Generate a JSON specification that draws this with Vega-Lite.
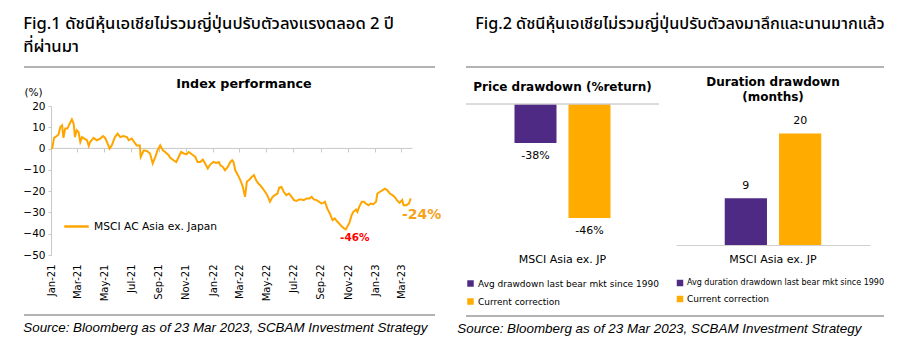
{
  "$schema": "https://vega.github.io/schema/vega-lite/v6.json",
  "padding": {"left": 22, "top": 16, "right": 0, "bottom": 0},
  "background": "white",
  "config": {
    "view": {"stroke": null},
    "font": "DejaVu Sans",
    "axis": {"grid": false, "labelFont": "DejaVu Sans", "labelColor": "#000000", "domainColor": "#C8C8C8", "tickColor": "#C8C8C8", "labelFontSize": 10},
    "axisY": {"labelOverlap": false},
    "legend": {"labelFont": "DejaVu Sans", "labelColor": "#000000"},
    "title": {"color": "#000000"},
    "text": {"font": "DejaVu Sans"}
  },
  "spacing": 15,
  "hconcat": [
    {
      "spacing": 10,
      "vconcat": [
        {
          "title": {"text": ["Fig.1 ดัชนีหุ้นเอเชียไม่รวมญี่ปุ่นปรับตัวลงแรงตลอด 2 ปี", "ที่ผ่านมา"], "anchor": "start", "fontSize": 16.6, "fontWeight": 500, "font": "Noto Sans Thai, Noto Sans, sans-serif", "lineHeight": 22.5, "offset": 11},
          "width": 411, "height": 1,
          "data": {"values": [{}]},
          "mark": {"type": "rule", "color": "#9A9A9A", "strokeWidth": 1.5},
          "encoding": {"y": {"datum": 0, "axis": null}}
        },
        {
          "title": {"text": "Index performance", "fontSize": 12.7, "fontWeight": "bold", "font": "DejaVu Sans", "offset": -4, "dx": 26},
          "width": 388, "height": 149,
          "layer": [
            {
              "data": {"values": [
                {"d":"2021-01-01","v":0},{"d":"2021-01-04","v":0.3},{"d":"2021-01-08","v":5},{"d":"2021-01-14","v":5.9},{"d":"2021-01-18","v":6.6},{"d":"2021-01-22","v":10.1},{"d":"2021-01-26","v":10.9},{"d":"2021-01-29","v":5},{"d":"2021-02-02","v":9.4},{"d":"2021-02-07","v":9.4},{"d":"2021-02-12","v":11.7},{"d":"2021-02-17","v":13.7},{"d":"2021-02-21","v":11.7},{"d":"2021-02-24","v":5.4},{"d":"2021-02-28","v":8.6},{"d":"2021-03-04","v":7.8},{"d":"2021-03-08","v":3.1},{"d":"2021-03-12","v":5.4},{"d":"2021-03-17","v":4.7},{"d":"2021-03-23","v":3.9},{"d":"2021-03-27","v":1.2},{"d":"2021-03-30","v":3.1},{"d":"2021-04-07","v":5},{"d":"2021-04-14","v":3.9},{"d":"2021-04-22","v":4.7},{"d":"2021-04-28","v":5.9},{"d":"2021-05-03","v":5},{"d":"2021-05-07","v":3.1},{"d":"2021-05-13","v":0},{"d":"2021-05-18","v":1.5},{"d":"2021-05-25","v":5.4},{"d":"2021-05-31","v":7},{"d":"2021-06-06","v":5.4},{"d":"2021-06-13","v":5.9},{"d":"2021-06-21","v":5.4},{"d":"2021-06-25","v":3.9},{"d":"2021-07-02","v":4.7},{"d":"2021-07-07","v":3.1},{"d":"2021-07-13","v":1.5},{"d":"2021-07-20","v":1.5},{"d":"2021-07-22","v":-3.9},{"d":"2021-07-29","v":-0.8},{"d":"2021-08-05","v":-1.1},{"d":"2021-08-12","v":-2.3},{"d":"2021-08-18","v":-7},{"d":"2021-08-24","v":-3.9},{"d":"2021-08-29","v":-0.8},{"d":"2021-09-04","v":1.5},{"d":"2021-09-10","v":-0.8},{"d":"2021-09-15","v":-1.6},{"d":"2021-09-23","v":-3.1},{"d":"2021-09-26","v":-4.2},{"d":"2021-10-04","v":-5.5},{"d":"2021-10-10","v":-6.3},{"d":"2021-10-15","v":-4.2},{"d":"2021-10-21","v":-1.6},{"d":"2021-10-27","v":-2.3},{"d":"2021-11-02","v":-2.7},{"d":"2021-11-07","v":-1.6},{"d":"2021-11-12","v":-2.3},{"d":"2021-11-17","v":-3.1},{"d":"2021-11-22","v":-3.9},{"d":"2021-11-27","v":-6.3},{"d":"2021-12-03","v":-6.3},{"d":"2021-12-09","v":-5.2},{"d":"2021-12-14","v":-7},{"d":"2021-12-20","v":-9.4},{"d":"2021-12-26","v":-7.4},{"d":"2022-01-02","v":-6.3},{"d":"2022-01-08","v":-6.7},{"d":"2022-01-14","v":-6.3},{"d":"2022-01-17","v":-7.8},{"d":"2022-01-23","v":-8.6},{"d":"2022-01-28","v":-10.2},{"d":"2022-02-03","v":-8.6},{"d":"2022-02-09","v":-6.3},{"d":"2022-02-13","v":-5.5},{"d":"2022-02-16","v":-6.3},{"d":"2022-02-20","v":-10.2},{"d":"2022-02-28","v":-13.3},{"d":"2022-03-05","v":-15.6},{"d":"2022-03-09","v":-18},{"d":"2022-03-14","v":-22.7},{"d":"2022-03-18","v":-15.6},{"d":"2022-03-24","v":-14.5},{"d":"2022-03-29","v":-13.3},{"d":"2022-04-03","v":-12.5},{"d":"2022-04-08","v":-14.9},{"d":"2022-04-13","v":-16.4},{"d":"2022-04-17","v":-17.2},{"d":"2022-04-23","v":-18.8},{"d":"2022-04-28","v":-20.3},{"d":"2022-05-03","v":-21.9},{"d":"2022-05-09","v":-25},{"d":"2022-05-15","v":-22.7},{"d":"2022-05-20","v":-21.9},{"d":"2022-05-26","v":-21.1},{"d":"2022-05-30","v":-18.3},{"d":"2022-06-04","v":-18},{"d":"2022-06-09","v":-20.3},{"d":"2022-06-15","v":-21.9},{"d":"2022-06-21","v":-21.1},{"d":"2022-06-27","v":-22.7},{"d":"2022-07-02","v":-24.2},{"d":"2022-07-08","v":-24.6},{"d":"2022-07-14","v":-23.9},{"d":"2022-07-19","v":-23.9},{"d":"2022-07-24","v":-24.2},{"d":"2022-07-31","v":-23.4},{"d":"2022-08-06","v":-23.4},{"d":"2022-08-11","v":-22.7},{"d":"2022-08-16","v":-23.9},{"d":"2022-08-22","v":-24.2},{"d":"2022-08-28","v":-25},{"d":"2022-09-02","v":-25.8},{"d":"2022-09-06","v":-25.5},{"d":"2022-09-10","v":-25},{"d":"2022-09-15","v":-28.1},{"d":"2022-09-21","v":-30.5},{"d":"2022-09-27","v":-33.6},{"d":"2022-10-02","v":-32.8},{"d":"2022-10-08","v":-34.4},{"d":"2022-10-12","v":-35.2},{"d":"2022-10-17","v":-36.4},{"d":"2022-10-23","v":-37.5},{"d":"2022-10-27","v":-38},{"d":"2022-10-30","v":-36.8},{"d":"2022-11-04","v":-34.9},{"d":"2022-11-09","v":-31.3},{"d":"2022-11-13","v":-29.7},{"d":"2022-11-19","v":-28.6},{"d":"2022-11-22","v":-29.7},{"d":"2022-11-26","v":-27.4},{"d":"2022-12-02","v":-25},{"d":"2022-12-07","v":-25},{"d":"2022-12-11","v":-25.8},{"d":"2022-12-17","v":-26.6},{"d":"2022-12-22","v":-25.8},{"d":"2022-12-28","v":-26.1},{"d":"2023-01-03","v":-25},{"d":"2023-01-06","v":-21.1},{"d":"2023-01-12","v":-20.3},{"d":"2023-01-18","v":-19.5},{"d":"2023-01-23","v":-18.8},{"d":"2023-01-28","v":-19.5},{"d":"2023-02-03","v":-21.1},{"d":"2023-02-09","v":-21.9},{"d":"2023-02-14","v":-22.7},{"d":"2023-02-19","v":-24.2},{"d":"2023-02-25","v":-25.5},{"d":"2023-03-03","v":-24.2},{"d":"2023-03-06","v":-26.6},{"d":"2023-03-12","v":-26.6},{"d":"2023-03-18","v":-25.8},{"d":"2023-03-22","v":-23.4}
              ]},
              "mark": {"type": "line", "strokeWidth": 2, "interpolate": "linear"},
              "encoding": {
                "x": {"field": "d", "type": "temporal",
                      "scale": {"domain": [{"year": 2021, "month": 1, "date": 1}, {"year": 2023, "month": 3, "date": 25}], "range": [27, 388]},
                      "axis": {"format": "%b-%y", "labelAngle": -90, "tickCount": {"interval": "month", "step": 2}, "domain": false, "ticks": false, "labelPadding": 9, "title": " ", "titleFontSize": 3, "titlePadding": 0, "labelFontSize": 10, "labelOverlap": false}},
                "y": {"field": "v", "type": "quantitative",
                      "scale": {"domain": [-50, 20], "nice": false},
                      "axis": {"values": [-50, -40, -30, -20, -10, 0, 10, 20], "offset": -27, "labelOverlap": false, "tickSize": 3, "labelPadding": 3, "labelFontSize": 10.5, "title": "(%)", "titleAngle": 0, "titleAlign": "left", "titleBaseline": "alphabetic", "titleX": -27, "titleY": -11, "titleFontWeight": "normal", "titleFontSize": 10.5, "titleFont": "DejaVu Sans"}},
                "color": {"datum": "MSCI AC Asia ex. Japan", "type": "nominal", "scale": {"range": ["#FFA500"]},
                          "legend": {"title": null, "orient": "none", "legendX": 39, "legendY": 146, "symbolType": "stroke", "symbolSize": 600, "symbolStrokeWidth": 2.5, "labelFontSize": 10.7, "labelOffset": 4}}
              }
            },
            {
              "data": {"values": [{"d": "2022-10-27", "v": -38, "t": "-46%"}]},
              "mark": {"type": "text", "color": "#FF0000", "fontWeight": "bold", "fontSize": 10.5, "dx": 9, "dy": 9, "baseline": "middle", "align": "center"},
              "encoding": {
                "x": {"field": "d", "type": "temporal", "axis": {"orient": "bottom", "offset": -107.1, "labels": false, "domain": true, "ticks": true, "tickSize": 4, "title": null, "grid": false, "tickCount": {"interval": "month", "step": 2}}},
                "y": {"field": "v", "type": "quantitative",
                      "axis": {"values": [-50, -40, -30, -20, -10, 0, 10, 20], "offset": -27, "labelOverlap": false, "tickSize": 3, "labelPadding": 3, "labelFontSize": 10.5, "title": "(%)", "titleAngle": 0, "titleAlign": "left", "titleBaseline": "alphabetic", "titleX": -27, "titleY": -11, "titleFontWeight": "normal", "titleFontSize": 10.5, "titleFont": "DejaVu Sans"}},
                "text": {"field": "t"}
              }
            },
            {
              "data": {"values": [{"d": "2023-03-22", "v": -23.4, "t": "-24%"}]},
              "mark": {"type": "text", "color": "#F7A21B", "fontWeight": "bold", "fontSize": 14, "dx": 11, "dy": 17, "baseline": "middle", "align": "center"},
              "encoding": {
                "x": {"field": "d", "type": "temporal", "axis": null},
                "y": {"field": "v", "type": "quantitative",
                      "axis": {"values": [-50, -40, -30, -20, -10, 0, 10, 20], "offset": -27, "labelOverlap": false, "tickSize": 3, "labelPadding": 3, "labelFontSize": 10.5, "title": "(%)", "titleAngle": 0, "titleAlign": "left", "titleBaseline": "alphabetic", "titleX": -27, "titleY": -11, "titleFontWeight": "normal", "titleFontSize": 10.5, "titleFont": "DejaVu Sans"}},
                "text": {"field": "t"}
              }
            }
          ],
          "resolve": {"axis": {"x": "independent"}}
        },
        {
          "title": {"text": "Source: Bloomberg as of 23 Mar 2023, SCBAM Investment Strategy", "orient": "bottom", "anchor": "start", "fontStyle": "italic", "fontWeight": "normal", "fontSize": 13.4, "font": "Liberation Sans", "offset": 5},
          "width": 411, "height": 1,
          "data": {"values": [{}]},
          "mark": {"type": "rule", "color": "#9A9A9A", "strokeWidth": 1.5},
          "encoding": {"y": {"datum": 0, "axis": null}}
        }
      ]
    },
    {
      "spacing": 8,
      "vconcat": [
        {
          "title": {"text": "Fig.2 ดัชนีหุ้นเอเชียไม่รวมญี่ปุ่นปรับตัวลงมาลึกและนานมากแล้ว", "anchor": "start", "fontSize": 16.2, "fontWeight": 500, "font": "Noto Sans Thai, Noto Sans, sans-serif", "offset": 34, "dx": 10},
          "width": 418, "height": 1,
          "data": {"values": [{}]},
          "mark": {"type": "rule", "color": "#9A9A9A", "strokeWidth": 1.5},
          "encoding": {"y": {"datum": 0, "axis": null}}
        },
        {
          "spacing": 16,
          "hconcat": [
            {
              "title": {"text": "Price drawdown (%return)", "fontSize": 12, "fontWeight": "bold", "offset": 10},
              "width": 193, "height": 141,
              "data": {"values": [
                {"cat": "MSCI Asia ex. JP", "series": "Avg drawdown last bear mkt since 1990", "value": -38, "label": "-38%"},
                {"cat": "MSCI Asia ex. JP", "series": "Current correction", "value": -46, "label": "-46%"}
              ]},
              "layer": [
                {
                  "mark": {"type": "bar"},
                  "encoding": {
                    "x": {"field": "cat", "type": "nominal", "scale": {"paddingInner": 0, "paddingOuter": 0.505}, "axis": {"title": null, "labelAngle": 0, "domain": false, "ticks": false, "labelPadding": 8, "labelFontSize": 11}},
                    "xOffset": {"field": "series", "type": "nominal", "scale": {"paddingInner": 0.222, "paddingOuter": 0}},
                    "y": {"field": "value", "type": "quantitative", "scale": {"domain": [-48.88, -33.84], "nice": false, "zero": false}, "axis": null},
                    "y2": {"datum": -33.84},
                    "color": {"field": "series", "type": "nominal", "scale": {"domain": ["Avg drawdown last bear mkt since 1990", "Current correction"], "range": ["#4F2A84", "#FFAB00"]},
                              "legend": {"title": null, "orient": "bottom", "direction": "vertical", "columns": 1, "symbolType": "square", "symbolSize": 42, "labelFontSize": 9, "labelLimit": 400, "rowPadding": 8, "offset": 15, "labelOffset": 3}}
                  }
                },
                {
                  "mark": {"type": "text", "dy": 13, "fontSize": 11, "baseline": "middle"},
                  "encoding": {
                    "x": {"field": "cat", "type": "nominal"},
                    "xOffset": {"field": "series", "type": "nominal"},
                    "y": {"field": "value", "type": "quantitative"},
                    "text": {"field": "label"}
                  }
                },
                {
                  "mark": {"type": "rule", "color": "#D0D0D0", "strokeWidth": 1},
                  "encoding": {"y": {"datum": -33.84}}
                }
              ]
            },
            {
              "title": {"text": ["Duration drawdown", "(months)"], "fontSize": 12, "fontWeight": "bold", "offset": 0, "lineHeight": 15},
              "width": 194, "height": 141,
              "data": {"values": [
                {"cat": "MSCI Asia ex. JP", "series": "Avg duration drawdown last bear mkt since 1990", "value": 9, "label": "9"},
                {"cat": "MSCI Asia ex. JP", "series": "Current correction", "value": 20, "label": "20"}
              ]},
              "layer": [
                {
                  "mark": {"type": "bar"},
                  "encoding": {
                    "x": {"field": "cat", "type": "nominal", "scale": {"paddingInner": 0, "paddingOuter": 0.505}, "axis": {"title": null, "labelAngle": 0, "domain": true, "domainColor": "#D0D0D0", "ticks": false, "labelPadding": 8, "labelFontSize": 11}},
                    "xOffset": {"field": "series", "type": "nominal", "scale": {"paddingInner": 0.222, "paddingOuter": 0}},
                    "y": {"field": "value", "type": "quantitative", "scale": {"domain": [1.05, 25], "nice": false, "zero": false}, "axis": null},
                    "y2": {"datum": 1.05},
                    "color": {"field": "series", "type": "nominal", "scale": {"domain": ["Avg duration drawdown last bear mkt since 1990", "Current correction"], "range": ["#4F2A84", "#FFAB00"]},
                              "legend": {"title": null, "orient": "bottom", "direction": "vertical", "columns": 1, "symbolType": "square", "symbolSize": 42, "labelFontSize": {"expr": "datum.label == 'Current correction' ? 9 : 8"}, "labelLimit": 400, "rowPadding": 8, "offset": 15, "labelOffset": 3}}
                  }
                },
                {
                  "mark": {"type": "text", "dy": -12, "fontSize": 11, "baseline": "middle"},
                  "encoding": {
                    "x": {"field": "cat", "type": "nominal"},
                    "xOffset": {"field": "series", "type": "nominal"},
                    "y": {"field": "value", "type": "quantitative"},
                    "text": {"field": "label"}
                  }
                }
              ]
            }
          ],
          "resolve": {"scale": {"color": "independent", "x": "independent", "y": "independent", "xOffset": "independent"}, "legend": {"color": "independent"}}
        },
        {
          "title": {"text": "Source: Bloomberg as of 23 Mar 2023, SCBAM Investment Strategy", "orient": "bottom", "anchor": "start", "fontStyle": "italic", "fontWeight": "normal", "fontSize": 13.4, "font": "Liberation Sans", "offset": 5, "dx": -8},
          "width": 418, "height": 1,
          "data": {"values": [{}]},
          "mark": {"type": "rule", "color": "#9A9A9A", "strokeWidth": 1.5},
          "encoding": {"y": {"datum": 0, "axis": null}}
        }
      ]
    }
  ]
}
